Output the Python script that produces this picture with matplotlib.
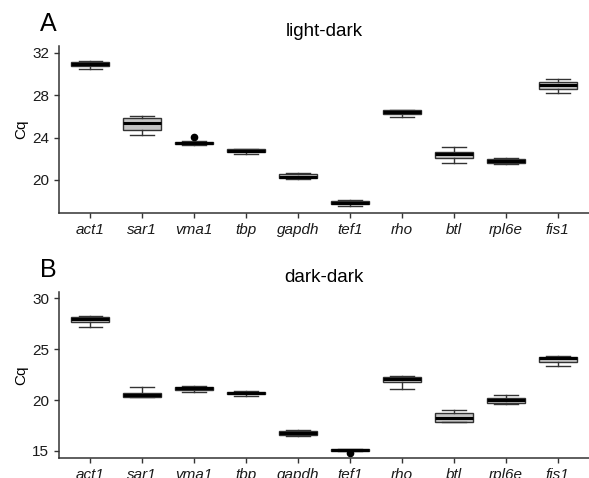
import numpy as np
import matplotlib.pyplot as plt

plt.rcParams['font.family'] = ['Liberation Sans', 'DejaVu Sans']

genes = ['act1', 'sar1', 'vma1', 'tbp', 'gapdh', 'tef1', 'rho', 'btl', 'rpl6e', 'fis1']

# light-dark: whisker low, q1, median, q3, whisker high
ld_lo  = [30.50, 24.25, 23.35, 22.45, 20.10, 17.55, 25.98, 21.60, 21.50, 28.25]
ld_q1  = [30.75, 24.72, 23.40, 22.60, 20.15, 17.70, 26.25, 22.05, 21.60, 28.55]
ld_med = [30.95, 25.35, 23.50, 22.75, 20.30, 17.85, 26.42, 22.42, 21.82, 28.95]
ld_q3  = [31.15, 25.83, 23.62, 22.90, 20.55, 17.98, 26.58, 22.67, 21.98, 29.30]
ld_hi  = [31.20, 26.05, 23.65, 22.93, 20.62, 18.08, 26.60, 23.14, 22.05, 29.51]
ld_out = {'vma1': [24.03]}

# dark-dark
dd_lo  = [27.12, 20.30, 20.82, 20.39, 16.50, 14.97, 21.11, 17.84, 19.58, 23.30]
dd_q1  = [27.62, 20.33, 21.01, 20.56, 16.58, 14.99, 21.76, 17.86, 19.71, 23.70]
dd_med = [27.94, 20.49, 21.18, 20.70, 16.80, 15.10, 22.08, 18.27, 19.97, 24.15]
dd_q3  = [28.17, 20.72, 21.31, 20.82, 16.97, 15.18, 22.29, 18.70, 20.17, 24.25]
dd_hi  = [28.20, 21.27, 21.40, 20.84, 17.02, 15.20, 22.31, 18.99, 20.46, 24.28]
dd_out = {'tef1': [14.83]}

panels = [
    ('A', 'light-dark', ld_lo, ld_q1, ld_med, ld_q3, ld_hi, ld_out,
     [20, 24, 28, 32], (16.88, 32.66), [0.1002, 0.5544, 0.8998, 0.3494]),
    ('B', 'dark-dark', dd_lo, dd_q1, dd_med, dd_q3, dd_hi, dd_out,
     [15, 20, 25, 30], (14.31, 30.60), [0.1002, 0.0418, 0.8998, 0.3473]),
]

fig = plt.figure(figsize=(5.89, 4.78), dpi=100)
edge = '#333333'

for letter, title, lo, q1, med, q3, hi, out, yticks, ylim, rect in panels:
    ax = fig.add_axes(rect)
    stats = []
    for i, g in enumerate(genes):
        stats.append({'whislo': lo[i], 'q1': q1[i], 'med': med[i], 'q3': q3[i],
                      'whishi': hi[i], 'fliers': out.get(g, [])})
    pos = np.arange(1, len(genes) + 1)
    ax.bxp(stats, positions=pos, widths=0.72, patch_artist=True, capwidths=0.45,
           boxprops=dict(facecolor='#c4c4c4', edgecolor=edge, linewidth=1.0),
           medianprops=dict(color='black', linewidth=2.2),
           whiskerprops=dict(color=edge, linewidth=1.0),
           capprops=dict(color=edge, linewidth=1.0),
           flierprops=dict(marker='o', markerfacecolor='black', markeredgecolor='black',
                           markersize=4.5))
    ax.set_xlim(0.4, len(genes) + 0.6)
    ax.set_ylim(*ylim)
    ax.set_yticks(yticks)
    ax.set_xticks(pos)
    ax.set_xticklabels(genes, fontstyle='italic')
    ax.tick_params(labelsize=11, colors=edge, labelcolor='#1a1a1a', length=3.5, width=1.0)
    for s in ['top', 'right']:
        ax.spines[s].set_visible(False)
    for s in ['left', 'bottom']:
        ax.spines[s].set_color(edge)
        ax.spines[s].set_linewidth(1.1)
    ax.set_ylabel('Cq', fontsize=11, labelpad=3)
    ax.set_title(title, fontsize=13.5, pad=7)
    fig.text(0.068, rect[1] + rect[3] + 0.046, letter, fontsize=18, va='center')

fig.savefig('out.png', dpi=100)
